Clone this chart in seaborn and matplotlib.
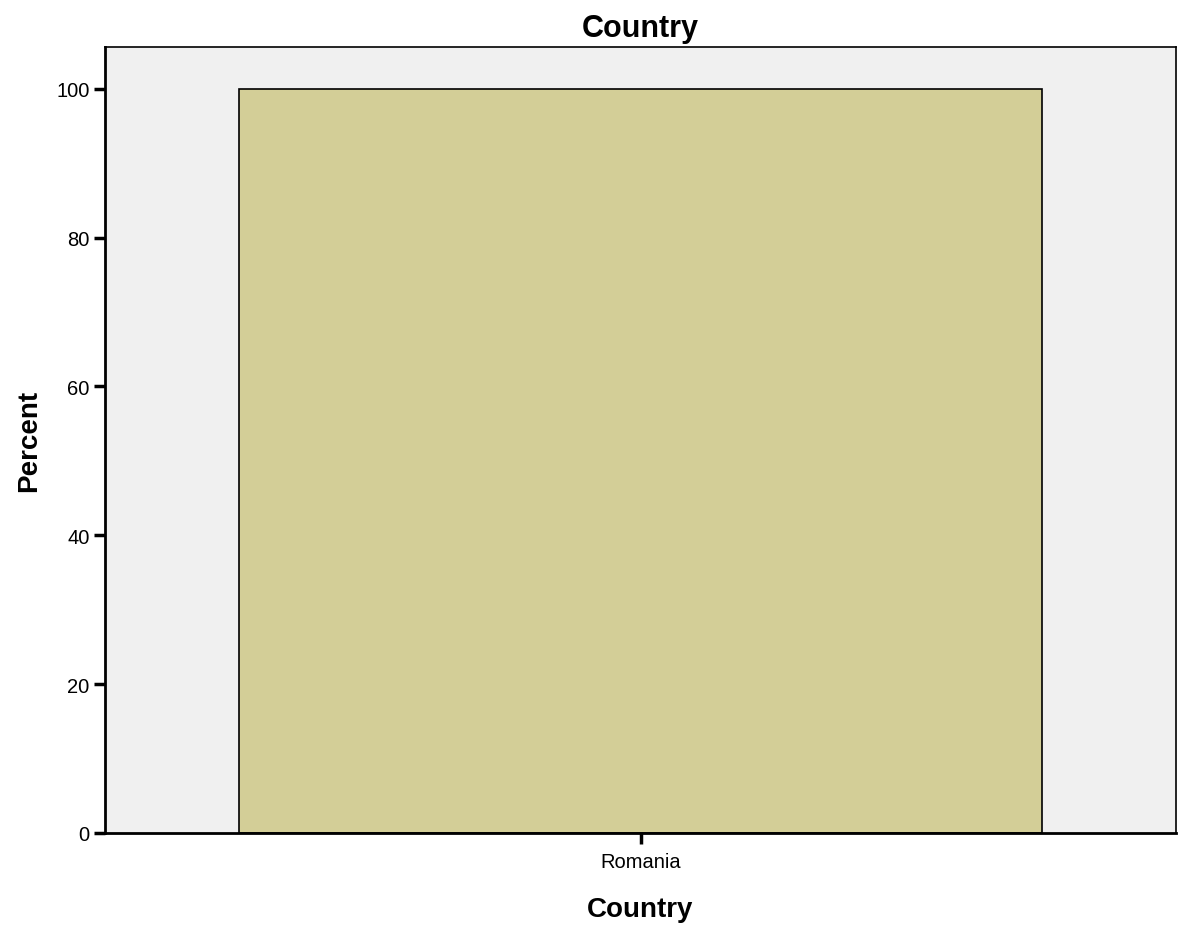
import numpy as np
import pandas as pd
import matplotlib
matplotlib.use('Agg')
import matplotlib.pyplot as plt
import seaborn as sns

#%%
paises = ['Romania']
porcentaje = [100.0]

datos = pd.DataFrame({'Country': paises, 'Percent': porcentaje})

#%%
sns.set_style('white')
plt.rcParams['font.family'] = ['Liberation Sans', 'DejaVu Sans']
plt.rcParams['text.color'] = 'black'
plt.rcParams['axes.labelcolor'] = 'black'

fig = plt.figure(figsize=(11.82, 9.29), dpi=100)
ax1 = fig.add_axes([0.0888, 0.1023, 0.9062, 0.846])
ax1.set_facecolor('#F0F0F0')

sns.barplot(x='Country', y='Percent', data=datos, ax=ax1,
            color='#D3CE97', saturation=1, width=0.75,
            edgecolor='black', linewidth=1.2)

ax1.set_xlim(-0.5, 0.5)
ax1.set_ylim(0, 105.6)
ax1.set_yticks([0, 20, 40, 60, 80, 100])

for lado in ['left', 'bottom']:
    ax1.spines[lado].set_linewidth(2)
    ax1.spines[lado].set_color('black')
for lado in ['top', 'right']:
    ax1.spines[lado].set_linewidth(1.2)
    ax1.spines[lado].set_color('black')
    ax1.spines[lado].set_visible(True)

ax1.tick_params(axis='both', direction='out', length=8, width=2.5,
                labelsize=14.5, color='black', labelcolor='black',
                left=True, bottom=True, pad=3)
ax1.tick_params(axis='x', pad=6)

ax1.set_xlabel('Country', fontsize=20, fontweight='bold', labelpad=18)
ax1.set_ylabel('Percent', fontsize=20, fontweight='bold', labelpad=10)
ax1.set_title('Country', fontsize=22, fontweight='bold', pad=8)

plt.savefig('out.png', format='png', dpi=100)
